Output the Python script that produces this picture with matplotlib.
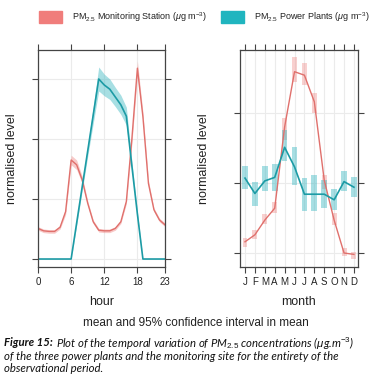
import numpy as np
import matplotlib
matplotlib.use("Agg")
import matplotlib.pyplot as plt
from matplotlib.patches import Patch

plt.rcParams['font.family'] = ['Liberation Sans', 'DejaVu Sans']
plt.rcParams['mathtext.fontset'] = 'custom'
plt.rcParams['mathtext.rm'] = 'Liberation Sans'
plt.rcParams['mathtext.it'] = 'Liberation Sans:italic'

# hourly profile (normalised)
hours = np.arange(24)
station_hour = [0.51, 0.47, 0.46, 0.46, 0.53, 0.79, 1.65, 1.57, 1.32, 0.93, 0.62, 0.48,
                0.47, 0.47, 0.51, 0.62, 0.96, 2.0, 3.18, 2.37, 1.26, 0.82, 0.65, 0.57]
station_hour_ci = [0.03, 0.03, 0.03, 0.03, 0.03, 0.05, 0.08, 0.08, 0.06, 0.04, 0.03, 0.03,
                   0.03, 0.03, 0.03, 0.03, 0.04, 0.08, 0.12, 0.08, 0.05, 0.03, 0.03, 0.03]
plants_hour = [0, 0, 0, 0, 0, 0, 0, 0.6, 1.2, 1.8, 2.4, 3.0,
               2.9, 2.83, 2.7, 2.57, 2.38, 1.55, 0.75, 0, 0, 0, 0, 0]
plants_hour_ci = [0, 0, 0, 0, 0, 0, 0, 0.04, 0.06, 0.09, 0.14, 0.2,
                  0.18, 0.17, 0.16, 0.16, 0.15, 0.08, 0.04, 0, 0, 0, 0, 0]

# monthly profile (normalised)
months = np.arange(1, 13)
month_labels = ['J', 'F', 'M', 'A', 'M', 'J', 'J', 'A', 'S', 'O', 'N', 'D']
station_month = [0.16, 0.26, 0.47, 0.64, 1.8, 2.59, 2.54, 2.16, 1.04, 0.47, 0.0, -0.02]
station_month_lo = [0.09, 0.2, 0.42, 0.57, 1.62, 2.45, 2.4, 2.0, 0.92, 0.4, -0.04, -0.08]
station_month_hi = [0.22, 0.33, 0.56, 0.73, 1.93, 2.8, 2.71, 2.28, 1.11, 0.57, 0.07, 0.02]
plants_month = [1.07, 0.85, 1.03, 1.08, 1.51, 1.23, 0.84, 0.84, 0.84, 0.76, 1.02, 0.94]
plants_month_lo = [0.91, 0.67, 0.88, 0.89, 1.31, 0.97, 0.6, 0.6, 0.64, 0.62, 0.88, 0.8]
plants_month_hi = [1.24, 1.02, 1.24, 1.27, 1.76, 1.52, 1.07, 1.11, 1.04, 0.91, 1.17, 1.08]

red_line = '#e0706c'
red_fill = '#f08a88'
teal_line = '#1c9ba5'
teal_fill = '#3cb8c2'
grid_c = '#ebebeb'
box_c = '#444444'

fig = plt.figure(figsize=(3.8, 3.8), dpi=100)
ax1 = fig.add_axes([38 / 380, 1 - 267 / 380, 127 / 380, 217 / 380])
ax2 = fig.add_axes([240 / 380, 1 - 267 / 380, 118 / 380, 217 / 380])


def style(ax, lab_x):
    for s in ax.spines.values():
        s.set_color(box_c)
        s.set_linewidth(0.9)
    ax.tick_params(direction='out', length=4.5, width=0.8, color=box_c,
                   top=True, right=True, labelsize=7, pad=3, labelcolor='#222222')
    ax.set_yticklabels([])
    ax.grid(True, color=grid_c, linewidth=0.8)
    ax.set_axisbelow(True)
    ax.set_ylabel('normalised level', fontsize=9, color='#222222')
    ax.yaxis.set_label_coords(lab_x, 0.5)


# hour panel
sh = np.array(station_hour)
sc = np.array(station_hour_ci)
ph = np.array(plants_hour)
pc = np.array(plants_hour_ci)
ax1.fill_between(hours, sh - sc, sh + sc, color=red_fill, alpha=0.45, lw=0)
ax1.fill_between(hours, ph - pc, ph + pc, color=teal_fill, alpha=0.45, lw=0)
ax1.plot(hours, sh, color=red_line, lw=1.0)
ax1.plot(hours, ph, color=teal_line, lw=1.2)
ax1.set_xlim(0, 23)
ax1.set_ylim(-0.133, 3.483)
ax1.set_xticks([0, 6, 12, 18, 23])
ax1.set_yticks([0, 1, 2, 3])
style(ax1, -20 / 127)
ax1.set_xlabel('hour', fontsize=9, labelpad=6, color='#222222')

# month panel
w = 0.58
ax2.bar(months, np.array(station_month_hi) - np.array(station_month_lo), width=0.5,
        bottom=station_month_lo, color=red_fill, alpha=0.4, lw=0)
ax2.bar(months, np.array(plants_month_hi) - np.array(plants_month_lo), width=w,
        bottom=plants_month_lo, color=teal_fill, alpha=0.45, lw=0)
ax2.plot(months, station_month, color=red_line, lw=1.0)
ax2.plot(months, plants_month, color=teal_line, lw=1.2)
ax2.set_xlim(0.495, 12.41)
ax2.set_ylim(-0.2, 2.9)
ax2.set_xticks(months)
ax2.set_xticklabels(month_labels)
ax2.set_yticks([0, 1, 2])
style(ax2, -30 / 118)
ax2.set_xlabel('month', fontsize=9, labelpad=6, color='#222222')

# legend
labels = [r'PM$_{2.5}$ Monitoring Station ($\mu$g m$^{-3}$)',
          r'PM$_{2.5}$ Power Plants ($\mu$g m$^{-3}$)']
colors = ['#f07d7b', '#20b5bf']
lx = [39 / 380, 221 / 380]
for lab, c, x in zip(labels, colors, lx):
    fig.legend([Patch(color=c)], [lab], loc='center left', bbox_to_anchor=(x, 1 - 17 / 380),
               frameon=False, fontsize=6.5, handlelength=2.6, handleheight=1.6,
               handletextpad=1.1, borderpad=0, borderaxespad=0, labelcolor='#222222')

fig.text(196 / 380, 1 - 323 / 380, 'mean and 95% confidence interval in mean',
         ha='center', va='center', fontsize=8.5, color='#222222')

# caption
cap_font = ['Lato', 'DejaVu Sans']
t = fig.text(4 / 380, 1 - 343 / 380, 'Figure 15:', ha='left', va='center', fontsize=8.2,
             family=cap_font, style='italic', weight='bold', color='#111111')
fig.canvas.draw()
bb = t.get_window_extent().transformed(fig.transFigure.inverted())
fig.text(bb.x1 + 3 / 380, 1 - 343 / 380,
         r'Plot of the temporal variation of PM$_{\mathit{2.5}}$ concentrations ($\mathit{\mu}$g.m$^{\mathit{-3}}$)',
         ha='left', va='center', fontsize=8.2, family=cap_font, style='italic', color='#111111')
fig.text(4 / 380, 1 - 356 / 380,
         'of the three power plants and the monitoring site for the entirety of the',
         ha='left', va='center', fontsize=8.2, family=cap_font, style='italic', color='#111111')
fig.text(4 / 380, 1 - 369 / 380, 'observational period.',
         ha='left', va='center', fontsize=8.2, family=cap_font, style='italic', color='#111111')

fig.savefig('out.png', dpi=100)
